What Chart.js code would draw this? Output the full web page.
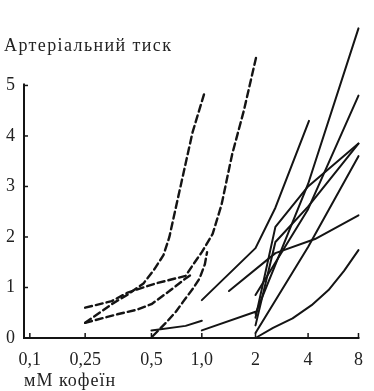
<!DOCTYPE html>
<html><head><meta charset="utf-8">
<script src="https://cdn.jsdelivr.net/npm/chart.js@4.4.0/dist/chart.umd.min.js"></script>
<style>html,body{margin:0;padding:0;background:#fff;overflow:hidden}</style>
</head><body>
<canvas id="c" width="374" height="391"></canvas>
<script>
// ---- tick labels / axis categories ----
const xTickLabels = ['0,1', '0,25', '0,5', '1,0', '2', '4', '8'];
const xTickConc   = [0.1, 0.25, 0.5, 1, 2, 4, 8];          // mM caffeine
const xTickPos    = [0, 1.01, 2.22, 3.14, 4.12, 5.08, 6.0]; // axis position of each tick (hand-drawn axis)
const yTickValues = [0, 1, 2, 3, 4, 5];
const yTitle = 'Артеріальний тиск';
const xTitle = 'мМ кофеїн';

// ---- series: [concentration mM, pressure] ----
const dashA = [[0.25,0.3],[0.33,0.67],[0.39,0.86],[0.46,1.08],[0.52,1.36],[0.59,1.64],[0.64,2.0],[0.72,2.77],[0.88,4.07],[1.04,4.88]];
const dashB = [[0.25,0.6],[0.33,0.73],[0.39,0.9],[0.53,1.08],[0.8,1.23],[0.89,1.46],[1.0,1.7],[1.15,2.06],[1.29,2.64],[1.48,3.64],[1.72,4.5],[2.03,5.6]];
const dashC = [[0.25,0.3],[0.35,0.47],[0.43,0.56],[0.5,0.67],[0.64,0.93],[0.8,1.18],[0.86,1.25]];
const dashD = [[0.51,0.04],[0.61,0.3],[0.7,0.52],[0.77,0.71],[0.89,0.99],[0.97,1.18],[1.04,1.46],[1.07,1.7]];

const solidA = [[0.5,0.15],[0.8,0.24],[1.0,0.34]];
const solidB = [[1.0,0.15],[2,0.52]];
const solidC = [[1.0,0.75],[2,1.78],[2.6,2.58],[4.05,4.3]];
const solidD = [[1.42,0.93],[2.6,1.68],[4.4,1.96],[8,2.43]];
const solidE = [[2,0.0],[2.52,0.2],[3.26,0.39],[4.2,0.65],[5.3,0.95],[6.56,1.33],[8,1.74]];
const solidF = [[2,0.48],[4,3.05],[8,6.13]];
const solidG = [[2,0.85],[4,2.55],[8,4.8]];
const solidH = [[2,0.25],[2.6,1.9],[4,2.6],[8,3.85]];
const solidI = [[2,0.4],[2.6,2.2],[4,3.0],[8,3.85]];
const solidJ = [[2,0.1],[4,1.8],[8,3.6]];

// map a concentration to the axis position (log interpolation between ticks)
function pos(c) {
  for (let i = 0; i < xTickConc.length - 1; i++) {
    const c0 = xTickConc[i], c1 = xTickConc[i+1];
    if (c <= c1 || i === xTickConc.length - 2) {
      const t = Math.log(c / c0) / Math.log(c1 / c0);
      return xTickPos[i] + t * (xTickPos[i+1] - xTickPos[i]);
    }
  }
}
const toPts = arr => arr.map(([c, v]) => ({x: pos(c), y: v}));

const INK = '#141414';
function ds(arr, dashed) {
  return {
    data: toPts(arr),
    borderColor: INK,
    borderWidth: dashed ? 2.4 : 2,
    borderDash: dashed ? [7, 4] : [],
    pointRadius: 0,
    fill: false,
    tension: 0,
    clip: false,
    borderCapStyle: 'round',
    borderJoinStyle: 'round'
  };
}

const SERIF = '"Liberation Serif", "DejaVu Serif", serif';

const axesPlugin = {
  id: 'handAxes',
  afterDraw(chart) {
    const ctx = chart.ctx;
    const xs = chart.scales.x, ys = chart.scales.y;
    const y0 = ys.getPixelForValue(0);
    const left = chart.chartArea.left;
    ctx.save();
    ctx.strokeStyle = INK;
    ctx.lineWidth = 2;
    ctx.lineCap = 'butt';
    // y axis
    ctx.beginPath();
    ctx.moveTo(left, y0 + 1);
    ctx.lineTo(left, ys.getPixelForValue(5) - 2);
    ctx.stroke();
    // x axis
    ctx.beginPath();
    ctx.moveTo(left - 1, y0);
    ctx.lineTo(xs.getPixelForValue(xTickPos[xTickPos.length - 1]) + 1, y0);
    ctx.stroke();
    // ticks
    ctx.lineWidth = 1.5;
    yTickValues.forEach(v => {
      if (v === 0) return;
      const p = ys.getPixelForValue(v);
      ctx.beginPath(); ctx.moveTo(left, p); ctx.lineTo(left + 4, p); ctx.stroke();
    });
    xTickPos.forEach(v => {
      const p = xs.getPixelForValue(v);
      ctx.beginPath(); ctx.moveTo(p, y0); ctx.lineTo(p, y0 - 5); ctx.stroke();
    });
    // titles
    ctx.fillStyle = '#222';
    ctx.font = '18px ' + SERIF;
    ctx.textBaseline = 'middle';
    ctx.textAlign = 'left';
    try { ctx.letterSpacing = '1.4px'; } catch (e) {}
    ctx.fillText(yTitle, 4, 46);
    try { ctx.letterSpacing = '1px'; } catch (e) {}
    ctx.fillText(xTitle, 24, 381);
    ctx.restore();
  }
};

new Chart(document.getElementById('c'), {
  type: 'line',
  data: {
    datasets: [
      ds(dashA, true), ds(dashB, true), ds(dashC, true), ds(dashD, true),
      ds(solidA), ds(solidB), ds(solidC), ds(solidD), ds(solidE),
      ds(solidF), ds(solidG), ds(solidH), ds(solidI), ds(solidJ)
    ]
  },
  options: {
    responsive: false,
    animation: false,
    devicePixelRatio: 1,
    layout: {padding: {left: 0, right: 3, top: 0, bottom: 0}},
    plugins: {legend: {display: false}, tooltip: {enabled: false}, title: {display: false}},
    scales: {
      x: {
        type: 'linear',
        min: -0.1065, max: 6.053,
        grid: {display: false, drawTicks: false, tickLength: 0}, border: {display: false},
        afterBuildTicks: s => { s.ticks = xTickPos.map(v => ({value: v})); },
        afterFit: s => { s.height = 53; },
        ticks: {
          callback: (v, i) => xTickLabels[i],
          font: {family: SERIF, size: 18}, color: '#222',
          padding: 11, maxRotation: 0, autoSkip: false
        }
      },
      y: {
        type: 'linear',
        min: 0, max: 6.3,
        grid: {display: false, drawTicks: false, tickLength: 0}, border: {display: false},
        afterBuildTicks: s => { s.ticks = yTickValues.map(v => ({value: v})); },
        afterFit: s => { s.width = 24; },
        ticks: {
          callback: v => String(v),
          font: {family: SERIF, size: 18}, color: '#222',
          padding: 9
        }
      }
    }
  },
  plugins: [axesPlugin]
});
</script>
</body></html>
